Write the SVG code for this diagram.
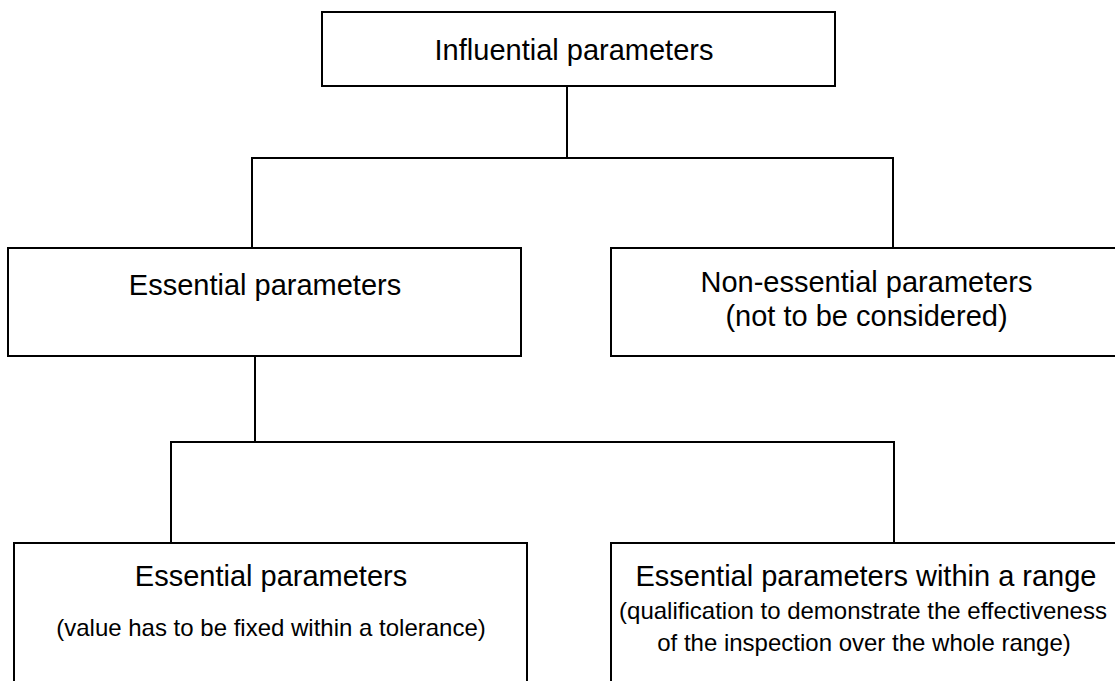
<svg xmlns="http://www.w3.org/2000/svg" width="1115" height="681" viewBox="0 0 1115 681">
<style>
.box{fill:#fff;stroke:#000;stroke-width:2}
.ln{fill:none;stroke:#000;stroke-width:2}
.t{font-family:"Liberation Sans",Arial,sans-serif;font-size:29px;fill:#000;text-anchor:middle}
.s{font-family:"Liberation Sans",Arial,sans-serif;font-size:24px;fill:#000;text-anchor:middle}
</style>
<rect width="1115" height="681" fill="#fff"/>
<g id="connectors">
<path class="ln" d="M567,86 V158 M252,248 V158 H893 V248"/>
<path class="ln" d="M255,356 V442 M171,543 V442 H894 V543"/>
</g>
<g id="influential">
<rect class="box" x="322" y="12" width="513" height="74"/>
<text class="t" x="574" y="60">Influential parameters</text>
</g>
<g id="essential">
<rect class="box" x="8" y="248" width="513" height="108"/>
<text class="t" x="265" y="295">Essential parameters</text>
</g>
<g id="nonessential">
<rect class="box" x="611" y="248" width="520" height="108"/>
<text class="t" x="866.5" y="292">Non-essential parameters</text>
<text class="t" x="866.5" y="326">(not to be considered)</text>
</g>
<g id="essential-fixed">
<rect class="box" x="14" y="543" width="513" height="160"/>
<text class="t" x="271" y="586">Essential parameters</text>
<text class="s" x="271" y="636">(value has to be fixed within a tolerance)</text>
</g>
<g id="essential-range">
<rect class="box" x="611" y="543" width="520" height="160"/>
<text class="t" x="866" y="586">Essential parameters within a range</text>
<text class="s" x="863" y="619">(qualification to demonstrate the effectiveness</text>
<text class="s" x="864" y="651">of the inspection over the whole range)</text>
</g>
</svg>
